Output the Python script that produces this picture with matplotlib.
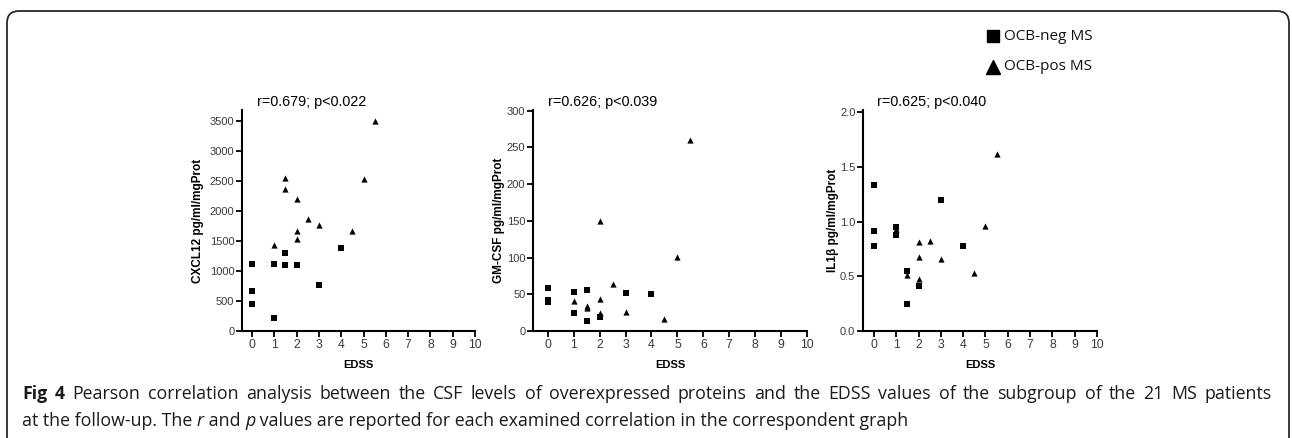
import matplotlib
matplotlib.use("Agg")
import matplotlib.pyplot as plt
from matplotlib.patches import FancyBboxPatch

# ---------------- data ----------------
edss_ticks = [0, 1, 2, 3, 4, 5, 6, 7, 8, 9, 10]

# CXCL12
cxcl12_neg_x = [0, 0, 0, 1, 1, 1.5, 1.5, 2, 3, 4]
cxcl12_neg_y = [1120, 670, 445, 1120, 215, 1300, 1105, 1105, 760, 1385]
cxcl12_pos_x = [1, 1.5, 1.5, 2, 2, 2, 2.5, 3, 4.5, 5, 5.5]
cxcl12_pos_y = [1425, 2545, 2360, 2205, 1660, 1535, 1865, 1765, 1660, 2540, 3505]

# GM-CSF
gmcsf_neg_x = [0, 0, 0, 1, 1, 1.5, 1.5, 2, 3, 4]
gmcsf_neg_y = [59, 42, 39, 53, 25, 56, 13, 19, 52, 50]
gmcsf_pos_x = [1, 1.5, 1.5, 2, 2, 2, 2.5, 3, 4.5, 5, 5.5]
gmcsf_pos_y = [41, 34, 31, 150, 44, 25, 64, 26, 16, 101, 260]

# IL1beta
il1b_neg_x = [0, 0, 0, 1, 1, 1.5, 1.5, 2, 3, 4]
il1b_neg_y = [1.33, 0.91, 0.78, 0.95, 0.875, 0.55, 0.245, 0.415, 1.20, 0.78]
il1b_pos_x = [1, 1.5, 2, 2, 2, 2.5, 3, 4.5, 5, 5.5]
il1b_pos_y = [0.93, 0.51, 0.815, 0.675, 0.477, 0.827, 0.655, 0.526, 0.957, 1.62]

panel_labels = ["CXCL12 pg/ml/mgProt", "GM-CSF pg/ml/mgProt", "IL1\u03b2 pg/ml/mgProt"]
panel_stats = ["r=0.679; p<0.022", "r=0.626; p<0.039", "r=0.625; p<0.040"]
panel_yticks = [list(range(0, 3501, 500)), list(range(0, 301, 50)), [0.0, 0.5, 1.0, 1.5, 2.0]]
panel_yticklabels = [[str(v) for v in panel_yticks[0]],
                     [str(v) for v in panel_yticks[1]],
                     ["0.0", "0.5", "1.0", "1.5", "2.0"]]
legend_labels = ["OCB-neg MS", "OCB-pos MS"]

caption_line1 = ("Pearson correlation analysis between the CSF levels of overexpressed proteins "
                 "and the EDSS values of the subgroup of the 21 MS patients")

W, H = 1292, 438
fig = plt.figure(figsize=(W / 100, H / 100), dpi=100)
fig.patch.set_facecolor("white")
ARIAL = ["Liberation Sans", "DejaVu Sans"]

# background axes in pixel coordinates
bg = fig.add_axes([0, 0, 1, 1])
bg.set_xlim(0, W)
bg.set_ylim(H, 0)
bg.axis("off")
frame = FancyBboxPatch((7, 11), 1282, 440, boxstyle="round,pad=0,rounding_size=12",
                       fc="none", ec="#2a2a2a", lw=1.3)
bg.add_patch(frame)

# legend
bg.plot([993], [36], marker="s", ms=9, color="black", ls="none")
bg.plot([993], [67], marker="^", ms=10, color="black", ls="none")
bg.text(1004, 36, legend_labels[0], fontsize=11, family="Open Sans", va="center", ha="left", color="#111")
bg.text(1004, 67, legend_labels[1], fontsize=11, family="Open Sans", va="center", ha="left", color="#111")

# panels: (left px, right px, xmin, ymax, ..., ylabel x px, stats x px)
panels = [
    (242, 475, -0.45, 3683, cxcl12_neg_x, cxcl12_neg_y, cxcl12_pos_x, cxcl12_pos_y, 204, 257),
    (533, 807, -0.57, 301, gmcsf_neg_x, gmcsf_neg_y, gmcsf_pos_x, gmcsf_pos_y, 505, 548),
    (863, 1097, -0.49, 2.02, il1b_neg_x, il1b_neg_y, il1b_pos_x, il1b_pos_y, 839, 877),
]
top_px, bot_px = 110, 331
for i, (lpx, rpx, xmin, ymax, nx, ny, px_, py_, labpx, statpx) in enumerate(panels):
    ax = fig.add_axes([lpx / W, (H - bot_px) / H, (rpx - lpx) / W, (bot_px - top_px) / H])
    ax.scatter(nx, ny, marker="s", s=22, color="black", lw=0, zorder=3, clip_on=False)
    ax.scatter(px_, py_, marker="^", s=20, color="black", lw=0, zorder=3, clip_on=False)
    ax.set_xlim(xmin, 10)
    ax.set_ylim(0, ymax)
    ax.set_xticks(edss_ticks)
    ax.set_yticks(panel_yticks[i])
    ax.set_yticklabels(panel_yticklabels[i])
    for s in ["top", "right"]:
        ax.spines[s].set_visible(False)
    for s in ["left", "bottom"]:
        ax.spines[s].set_linewidth(1.5)
    ax.tick_params(axis="both", width=1.3, length=4, labelsize=8, colors="black",
                   labelcolor="#3a3a3a", pad=1.5)
    ax.tick_params(axis="x", labelsize=8.8, pad=2)
    for lab in ax.get_xticklabels() + ax.get_yticklabels():
        lab.set_family(ARIAL)
    ax.set_xlabel("EDSS", fontsize=8, fontweight="bold", labelpad=6, family=ARIAL)
    ax.set_ylabel(panel_labels[i], fontsize=8.5, fontweight="bold", family=ARIAL)
    ax.yaxis.set_label_coords((labpx - lpx) / (rpx - lpx), 0.5)
    ax.text((statpx - lpx) / (rpx - lpx), 1.035, panel_stats[i], transform=ax.transAxes,
            fontsize=10.4, va="center", ha="left", family=ARIAL)
    ax.patch.set_alpha(0)

# caption
renderer = fig.canvas.get_renderer()
CAP = 12.8


def draw_segments(x, y, segments, size=CAP):
    for txt, weight, style in segments:
        t = bg.text(x, y, txt, fontsize=size, family="Open Sans", fontweight=weight,
                    fontstyle=style, va="baseline", ha="left", color="#1a1a1a")
        bb = t.get_window_extent(renderer)
        x += bb.width


def draw_justified(x0, x1, y, words, size=CAP):
    arts = []
    total = 0
    for txt, weight in words:
        t = bg.text(0, y, txt, fontsize=size, family="Open Sans", fontweight=weight,
                    va="baseline", ha="left", color="#1a1a1a")
        w = t.get_window_extent(renderer).width
        arts.append((t, w))
        total += w
    gap = (x1 - x0 - total) / (len(arts) - 1)
    x = x0
    for t, w in arts:
        t.set_x(x)
        x += w + gap


words1 = [("Fig", "bold"), ("4", "bold")] + [(w, "normal") for w in caption_line1.split()]
draw_justified(22, 1272, 399, words1)
draw_segments(22, 426, [
    ("at the follow-up. The ", "normal", "normal"),
    ("r", "normal", "italic"),
    (" and ", "normal", "normal"),
    ("p", "normal", "italic"),
    (" values are reported for each examined correlation in the correspondent graph", "normal", "normal"),
])

fig.savefig("out.png", dpi=100)
